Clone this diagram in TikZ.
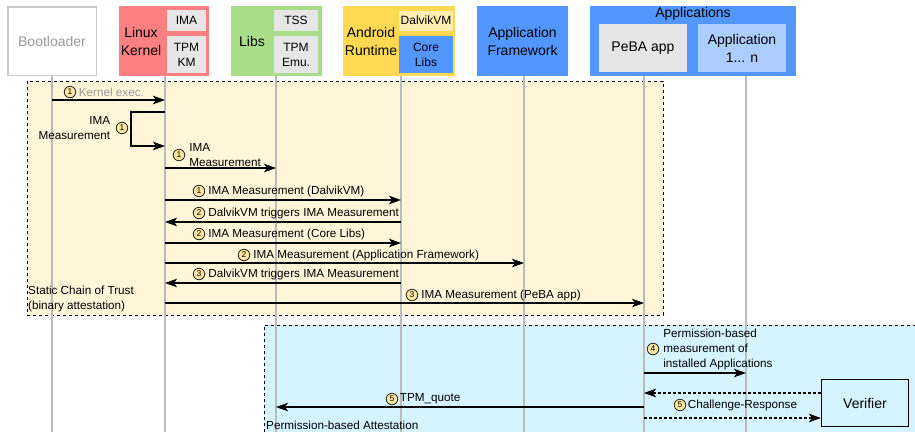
\documentclass[tikz,border=0pt]{standalone}
\usepackage{fontspec}
\setmainfont{Liberation Sans}
\usetikzlibrary{arrows.meta,positioning}
\definecolor{kernred}{HTML}{FF8080}
\definecolor{libgreen}{HTML}{AADD88}
\definecolor{rtyellow}{HTML}{FFD952}
\definecolor{dvmyellow}{HTML}{FFF0B2}
\definecolor{fwblue}{HTML}{5296FF}
\definecolor{appblue}{HTML}{ABCDFF}
\definecolor{subgray}{HTML}{E6E6E6}
\definecolor{sotyellow}{HTML}{FFF5D8}
\definecolor{attblue}{HTML}{D5F4FF}
\definecolor{numfill}{HTML}{FFE7A0}
\definecolor{lifegray}{HTML}{BBBBBB}
\tikzset{
    every node/.style={inner sep=0pt, font=\fontsize{11.7}{15}\selectfont}
}
\tikzset{
    layer/.style={minimum width=90pt, minimum height=70pt, align=center,
        font=\fontsize{14}{18}\selectfont},
    big/.style={align=center, font=\fontsize{14}{18}\selectfont},
    sub/.style={fill=subgray, align=center, font=\fontsize{12}{15}\selectfont},
    num/.style={circle, draw=black!85, fill=numfill, line width=0.8pt,
        minimum size=11.5pt, font=\fontsize{8.5}{8.5}\selectfont},
    life/.style={draw=lifegray, line width=1.2pt},
    msg/.style={line width=1.1pt, -{Stealth[length=12pt,width=8.5pt,inset=3pt]}},
    reply/.style={msg, dash pattern=on 3pt off 2pt},
    region/.style={dashed, line width=0.8pt}
}

\begin{document}
\begin{tikzpicture}[x=1pt,y=-1pt]
  \useasboundingbox (0,0) rectangle (915,432);

  % background regions
  \fill[sotyellow] (27,81) rectangle (663,315);
  \draw[region] (27,81) rectangle (663,315);
  \fill[attblue] (264,325) rectangle (915,432);
  \draw[region] (264,432) -- (264,325) -- (915,325);

  % layers
  \node[layer, draw=black!20, line width=1.5pt, text=black!40,
        minimum width=88.5pt, minimum height=68.5pt] (boot) at (52,41) {Bootloader};
  \node[layer, fill=kernred] (kern) at (164,41) {};
  \node[big] (kernt) at (141,41) {Linux\\Kernel};
  \node[sub, minimum width=39pt, minimum height=21pt] (ima) at (186.5,20.5) {IMA};
  \node[sub, minimum width=39pt, minimum height=37pt] (tpmkm) at (186.5,54.5) {TPM\\KM};

  \node[layer, fill=libgreen, minimum width=91pt] (libs) at (276.5,41) {};
  \node[big] (libst) at (252,41) {Libs};
  \node[sub, minimum width=44pt, minimum height=21pt] (tss) at (296,20.5) {TSS};
  \node[sub, minimum width=44pt, minimum height=37pt] (tpmemu) at (296,54.5) {TPM\\Emu.};

  \node[layer, fill=rtyellow, minimum width=112pt] (art) at (399,41) {};
  \node[big] (artt) at (371,41) {Android\\Runtime};
  \node[sub, fill=dvmyellow, minimum width=54pt, minimum height=20pt] (dvm) at (426,20.5) {DalvikVM};
  \node[sub, fill=fwblue, minimum width=54pt, minimum height=37pt] (core) at (426,54.5) {Core\\Libs};

  \node[layer, fill=fwblue, minimum width=91pt] (fw) at (522.5,41) {Application\\Framework};

  \node[layer, fill=fwblue, minimum width=206pt] (apps) at (693,41) {};
  \node[big] (appst) at (693,14) {Applications};
  \node[sub, minimum width=88pt, minimum height=48pt,
        font=\fontsize{14}{18}\selectfont] (peba) at (643,48) {PeBA app};
  \node[sub, fill=appblue, minimum width=88pt, minimum height=48pt,
        font=\fontsize{14}{18}\selectfont] (app) at (742,48) {Application\\1... n};

  \node[draw, line width=1.2pt, minimum width=87pt, minimum height=47pt,
        font=\fontsize{14}{18}\selectfont] (ver) at (865,403) {Verifier};

  % lifelines
  \coordinate (bootL) at (52,76);
  \coordinate (kernL) at (165,76);
  \coordinate (libsL) at (276,76);
  \coordinate (artL) at (401,76);
  \coordinate (fwL) at (524,76);
  \coordinate (pebaL) at (644,76);
  \coordinate (appL) at (746,76);
  \foreach \l in {bootL,kernL,libsL,artL,fwL,pebaL,appL}
    \draw[life] (\l) -- (\l |- 0,432);

  % static chain of trust
  \draw[msg] (bootL |- 0,100) -- (kernL |- 0,100);
  \draw[msg] (kernL |- 0,112) -- ++(-34,0) |- (kernL |- 0,146);
  \draw[msg] (kernL |- 0,168) -- (libsL |- 0,168);
  \draw[msg] (kernL |- 0,200) -- (artL |- 0,200);
  \draw[msg] (artL |- 0,222) -- (kernL |- 0,222);
  \draw[msg] (kernL |- 0,243) -- (artL |- 0,243);
  \draw[msg] (kernL |- 0,263) -- (fwL |- 0,263);
  \draw[msg] (artL |- 0,283) -- (kernL |- 0,283);
  \draw[msg] (kernL |- 0,303) -- (pebaL |- 0,303);

  \node[num] (n1) at (70,92) {1};
  \node[right=2.5pt of n1, text=black!40] (t1) {Kernel exec.};
  \node[num] (n2) at (122,128) {1};
  \node[left=5.5pt of n2, align=right] (t2) {IMA\\Measurement};
  \node[num] (n3) at (179,155) {1};
  \node[right=4pt of n3, align=left] (t3) {IMA\\Measurement};
  \node[num] (n4) at (199,191) {1};
  \node[right=3pt of n4] (t4) {IMA Measurement (DalvikVM)};
  \node[num] (n5) at (199,213) {2};
  \node[right=3pt of n5] (t5) {DalvikVM triggers IMA Measurement};
  \node[num] (n6) at (199,234) {2};
  \node[right=3pt of n6] (t6) {IMA Measurement (Core Libs)};
  \node[num] (n7) at (244,255) {2};
  \node[right=3pt of n7] (t7) {IMA Measurement (Application Framework)};
  \node[num] (n8) at (199,274) {3};
  \node[right=3pt of n8] (t8) {DalvikVM triggers IMA Measurement};
  \node[num] (n9) at (412,295) {3};
  \node[right=3pt of n9] (t9) {IMA Measurement (PeBA app)};
  \node[align=left, anchor=west] (sct) at (28,299) {Static Chain of Trust\\(binary attestation)};

  % permission-based attestation
  \draw[msg] (pebaL |- 0,373) -- (appL |- 0,373);
  \draw[reply] (ver.west |- 0,393) -- (pebaL |- 0,393);
  \draw[msg] (pebaL |- 0,407) -- (libsL |- 0,407);
  \draw[reply] (pebaL |- 0,418) -- (ver.west |- 0,418);

  \node[num] (n10) at (653,349) {4};
  \node[right=4pt of n10, align=left] (t10) {Permission-based\\measurement of\\installed Applications};
  \node[num] (n11) at (392,399) {5};
  \node[right=1.5pt of n11] (t11) {TPM\_quote};
  \node[num] (n12) at (680,405) {5};
  \node[right=1.5pt of n12] (t12) {Challenge-Response};
  \node[anchor=west] (pba) at (266,425) {Permission-based Attestation};
\end{tikzpicture}
\end{document}
